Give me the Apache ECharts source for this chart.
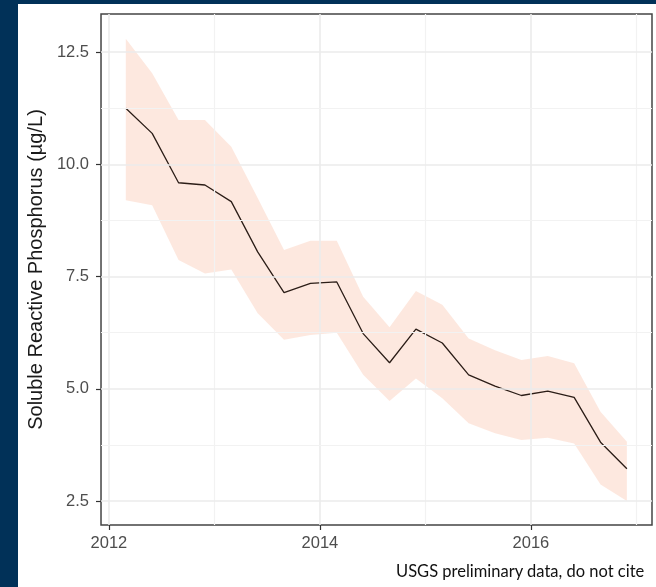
<!DOCTYPE html>
<html>
<head>
<meta charset="utf-8">
<script src="https://cdn.jsdelivr.net/npm/echarts@6/dist/echarts.min.js"></script>
<style>
html, body { margin: 0; padding: 0; background: #013158; width: 656px; height: 587px; overflow: hidden; }
#chart { position: absolute; left: 18px; top: 4px; width: 638px; height: 583px; background: #fff; }
#caption { position: absolute; left: 396px; top: 561px; font: 16.5px "Lato", "Liberation Sans", sans-serif; color: #111; white-space: nowrap; }
</style>
</head>
<body>
<div id="chart"></div>
<div id="caption">USGS preliminary data, do not cite</div>
<script>
// quarterly sample dates (decimal years)
var years = [2012.16, 2012.41, 2012.66, 2012.91, 2013.16, 2013.41, 2013.66, 2013.91, 2014.16, 2014.41,
             2014.66, 2014.91, 2015.16, 2015.41, 2015.66, 2015.91, 2016.16, 2016.41, 2016.66, 2016.91];
var srpMean  = [11.25, 10.69, 9.59, 9.54, 9.17, 8.05, 7.14, 7.35, 7.38, 6.23,
                5.58, 6.33, 6.02, 5.31, 5.06, 4.85, 4.95, 4.81, 3.81, 3.22];
var srpUpper = [12.8, 12.03, 10.99, 10.99, 10.39, 9.25, 8.09, 8.30, 8.30, 7.05,
                6.37, 7.18, 6.87, 6.12, 5.86, 5.64, 5.73, 5.57, 4.49, 3.82];
var srpLower = [9.2, 9.09, 7.87, 7.57, 7.66, 6.68, 6.09, 6.20, 6.25, 5.31,
                4.73, 5.23, 4.79, 4.23, 4.01, 3.86, 3.91, 3.78, 2.87, 2.50];

var xTicks = [2012, 2014, 2016];
var xMinor = [2013, 2015, 2017];
var yTicks = [2.5, 5.0, 7.5, 10.0, 12.5];
var yMinor = [3.75, 6.25, 8.75, 11.25];

var chart = echarts.init(document.getElementById('chart'));

var gridMajor = {color: '#ebebeb', width: 1.6, type: 'solid'};
var gridMinor = {color: '#f2f2f2', width: 1.2, type: 'solid'};
var gridLines = []
    .concat(xTicks.map(function (v) { return {xAxis: v, lineStyle: gridMajor}; }))
    .concat(xMinor.map(function (v) { return {xAxis: v, lineStyle: gridMinor}; }))
    .concat(yTicks.map(function (v) { return {yAxis: v, lineStyle: gridMajor}; }))
    .concat(yMinor.map(function (v) { return {yAxis: v, lineStyle: gridMinor}; }));

var tickFont = {color: '#4d4d4d', fontSize: 16.5, fontFamily: 'Liberation Sans'};

// confidence ribbon: one polygon, upper edge forward then lower edge back
function renderRibbon(params, api) {
    if (params.dataIndex !== 0) return;
    var pts = [];
    for (var i = 0; i < years.length; i++) pts.push(api.coord([years[i], srpUpper[i]]));
    for (var j = years.length - 1; j >= 0; j--) pts.push(api.coord([years[j], srpLower[j]]));
    return {
        type: 'polygon',
        shape: {points: pts},
        style: {fill: 'rgba(250,180,150,0.3)'}
    };
}

var option = {
    animation: false,
    grid: {
        left: 79, top: 10, right: 4, bottom: 62,
        show: true,
        borderColor: '#444',
        borderWidth: 1.5,
        backgroundColor: '#fff'
    },
    xAxis: {
        type: 'value',
        min: 2011.925,
        max: 2017.148,
        axisLine: {show: false},
        splitLine: {show: false},
        axisTick: {show: true, customValues: xTicks, length: 5, lineStyle: {color: '#333', width: 1.2}},
        axisLabel: Object.assign({customValues: xTicks, margin: 10,
            formatter: function (v) { return String(v); }}, tickFont)
    },
    yAxis: {
        type: 'value',
        min: 1.965,
        max: 13.35,
        name: 'Soluble Reactive Phosphorus (\u00b5g/L)',
        nameLocation: 'middle',
        nameGap: 42,
        nameTextStyle: {color: '#1a1a1a', fontSize: 20, fontFamily: 'Liberation Sans'},
        axisLine: {show: false},
        splitLine: {show: false},
        axisTick: {show: true, customValues: yTicks, length: 5, lineStyle: {color: '#333', width: 1.2}},
        axisLabel: Object.assign({customValues: yTicks, margin: 12,
            formatter: function (v) { return v.toFixed(1); }}, tickFont)
    },
    series: [
        {
            name: 'grid',
            type: 'line',
            data: [],
            z: 1,
            silent: true,
            markLine: {silent: true, symbol: 'none', label: {show: false}, animation: false, data: gridLines}
        },
        {
            name: 'ribbon',
            type: 'custom',
            renderItem: renderRibbon,
            data: years.map(function (x, i) { return [x, srpLower[i], srpUpper[i]]; }),
            encode: {x: 0, y: [1, 2]},
            clip: true,
            silent: true,
            z: 2
        },
        {
            name: 'mean',
            type: 'line',
            data: years.map(function (x, i) { return [x, srpMean[i]]; }),
            symbol: 'none',
            lineStyle: {color: '#2b1d17', width: 1.3},
            z: 3
        }
    ]
};
chart.setOption(option);
</script>
</body>
</html>
